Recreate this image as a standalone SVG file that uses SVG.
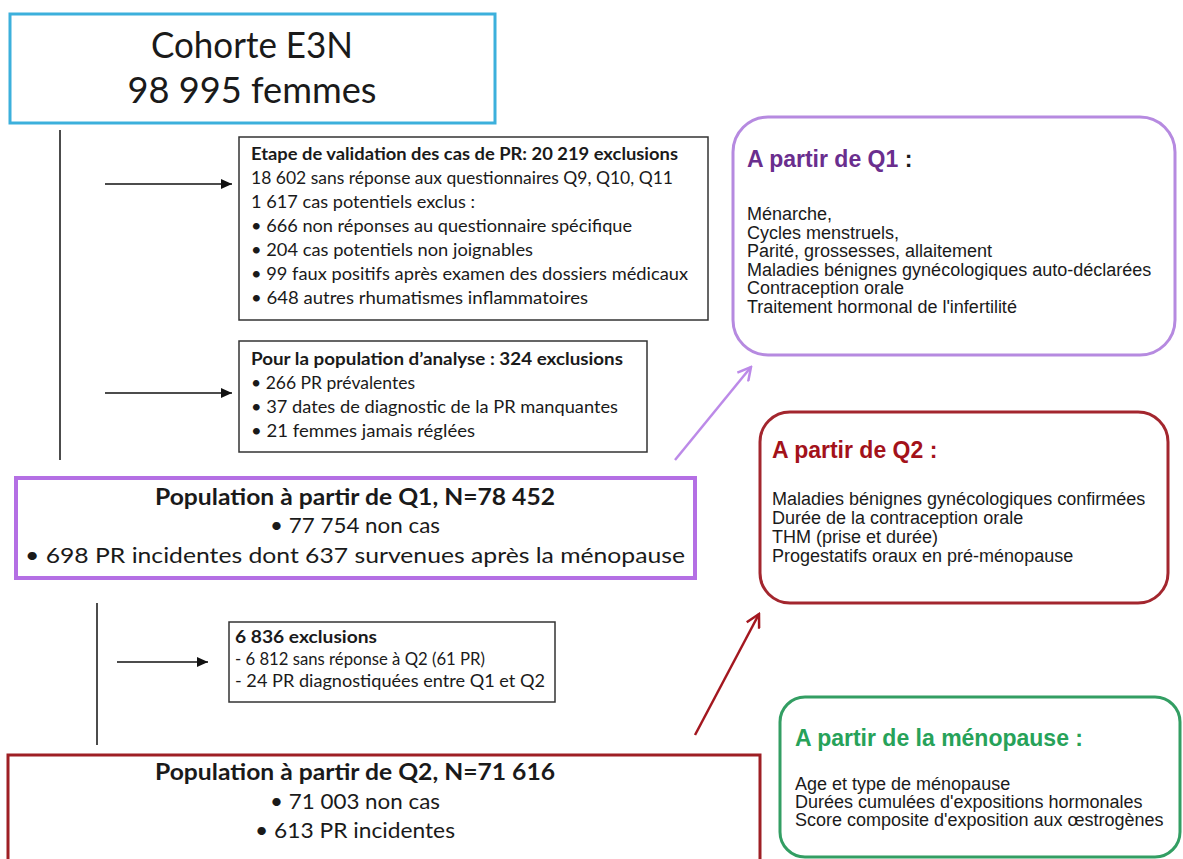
<svg xmlns="http://www.w3.org/2000/svg" width="1183" height="859" viewBox="0 0 1183 859">
<style>
.cal{font-family:Lato,"Open Sans","Liberation Sans",sans-serif;fill:#1a1a1a}
.ari{font-family:"Liberation Sans",Arial,sans-serif;fill:#1a1a1a;font-size:18px}
.s{font-size:16.5px}
.m{font-size:22px}
.b{font-weight:bold}
.bx{fill:#fff;stroke:#333;stroke-width:1.5}
.ln{stroke:#111;stroke-width:1.5;fill:none}
.t1{fill:#6A2E8E;font-weight:bold;font-size:23px}
.t2{fill:#A3121A;font-weight:bold;font-size:23px}
.t3{fill:#27A259;font-weight:bold;font-size:23px}
</style>
<defs>
<marker id="ah" markerUnits="userSpaceOnUse" markerWidth="12" markerHeight="10" refX="11" refY="5" orient="auto">
<path d="M0,0 L11,5 L0,10 z" fill="#111"/>
</marker>
<marker id="ap" markerUnits="userSpaceOnUse" markerWidth="16" markerHeight="16" refX="14" refY="8" orient="auto">
<path d="M1,1 L14,8 L1,15" fill="none" stroke="#BC8AE8" stroke-width="2.5"/>
</marker>
<marker id="ar" markerUnits="userSpaceOnUse" markerWidth="16" markerHeight="16" refX="14" refY="8" orient="auto">
<path d="M1,1 L14,8 L1,15" fill="none" stroke="#A3171F" stroke-width="2.5"/>
</marker>
</defs>
<rect width="1183" height="859" fill="#fff"/>

<g id="connectors">
<line class="ln" x1="60" y1="130" x2="60" y2="460"/>
<line class="ln" x1="105" y1="184" x2="232" y2="184" marker-end="url(#ah)"/>
<line class="ln" x1="105" y1="393" x2="232" y2="393" marker-end="url(#ah)"/>
<line class="ln" x1="97" y1="603" x2="97" y2="745"/>
<line class="ln" x1="117" y1="662" x2="208" y2="662" marker-end="url(#ah)"/>
<line x1="675" y1="460" x2="751" y2="367" stroke="#BC8AE8" stroke-width="2.5" marker-end="url(#ap)"/>
<line x1="695" y1="735" x2="759" y2="614" stroke="#A3171F" stroke-width="2.5" marker-end="url(#ar)"/>
</g>

<g id="cohorte">
<rect x="10" y="14" width="485" height="109" fill="#fff" stroke="#3CB0DC" stroke-width="3"/>
<text class="cal" x="252" y="58" font-size="37" text-anchor="middle" textLength="202" lengthAdjust="spacingAndGlyphs">Cohorte E3N</text>
<text class="cal" x="252" y="103" font-size="37" text-anchor="middle" textLength="249" lengthAdjust="spacingAndGlyphs">98 995 femmes</text>
</g>

<g id="exclusions1">
<rect class="bx" x="239" y="137" width="469" height="183"/>
<text class="cal s b" x="251" y="160" textLength="427" lengthAdjust="spacingAndGlyphs">Etape de validation des cas de PR: 20 219 exclusions</text>
<text class="cal s" x="251" y="184" textLength="422" lengthAdjust="spacingAndGlyphs">18 602 sans réponse aux questionnaires Q9, Q10, Q11</text>
<text class="cal s" x="251" y="208" textLength="224" lengthAdjust="spacingAndGlyphs">1 617 cas potentiels exclus :</text>
<text class="cal s" x="251" y="232" textLength="381" lengthAdjust="spacingAndGlyphs">• 666 non réponses au questionnaire spécifique</text>
<text class="cal s" x="251" y="256" textLength="282" lengthAdjust="spacingAndGlyphs">• 204 cas potentiels non joignables</text>
<text class="cal s" x="251" y="280" textLength="437" lengthAdjust="spacingAndGlyphs">• 99 faux positifs après examen des dossiers médicaux</text>
<text class="cal s" x="251" y="304" textLength="337" lengthAdjust="spacingAndGlyphs">• 648 autres rhumatismes inflammatoires</text>
</g>

<g id="exclusions2">
<rect class="bx" x="239" y="341" width="408" height="111"/>
<text class="cal s b" x="251" y="365" textLength="372" lengthAdjust="spacingAndGlyphs">Pour la population d’analyse : 324 exclusions</text>
<text class="cal s" x="251" y="389" textLength="164" lengthAdjust="spacingAndGlyphs">• 266 PR prévalentes</text>
<text class="cal s" x="251" y="413" textLength="367" lengthAdjust="spacingAndGlyphs">• 37 dates de diagnostic de la PR manquantes</text>
<text class="cal s" x="251" y="437" textLength="224" lengthAdjust="spacingAndGlyphs">• 21 femmes jamais réglées</text>
</g>

<g id="popQ1">
<rect x="16" y="478" width="679" height="100" fill="#fff" stroke="#B46FE4" stroke-width="4"/>
<text class="cal m b" x="355" y="505" text-anchor="middle" textLength="400" lengthAdjust="spacingAndGlyphs">Population à partir de Q1, N=78 452</text>
<text class="cal m" x="355" y="533" text-anchor="middle" textLength="170" lengthAdjust="spacingAndGlyphs">• 77 754 non cas</text>
<text class="cal m" x="355" y="563" text-anchor="middle" textLength="660" lengthAdjust="spacingAndGlyphs">• 698 PR incidentes dont 637 survenues après la ménopause</text>
</g>

<g id="exclusions3">
<rect class="bx" x="229" y="622" width="326" height="80"/>
<text class="cal s b" x="235" y="643" textLength="142" lengthAdjust="spacingAndGlyphs">6 836 exclusions</text>
<text class="cal s" x="235" y="665" textLength="250" lengthAdjust="spacingAndGlyphs">- 6 812 sans réponse à Q2 (61 PR)</text>
<text class="cal s" x="235" y="687" textLength="310" lengthAdjust="spacingAndGlyphs">- 24 PR diagnostiquées entre Q1 et Q2</text>
</g>

<g id="popQ2">
<rect x="8" y="755" width="752" height="120" fill="#fff" stroke="#9E1F24" stroke-width="3"/>
<text class="cal m b" x="355" y="780" text-anchor="middle" textLength="400" lengthAdjust="spacingAndGlyphs">Population à partir de Q2, N=71 616</text>
<text class="cal m" x="355" y="809" text-anchor="middle" textLength="170" lengthAdjust="spacingAndGlyphs">• 71 003 non cas</text>
<text class="cal m" x="355" y="838" text-anchor="middle" textLength="200" lengthAdjust="spacingAndGlyphs">• 613 PR incidentes</text>
</g>

<g id="q1vars">
<rect x="733" y="117" width="442" height="238" rx="35" fill="#fff" stroke="#B68AE0" stroke-width="3"/>
<text class="ari" x="747" y="167"><tspan class="t1">A partir de Q1</tspan><tspan font-weight="bold" font-size="23px"> :</tspan></text>
<text class="ari" x="747" y="220">Ménarche,</text>
<text class="ari" x="747" y="238.5">Cycles menstruels,</text>
<text class="ari" x="747" y="257">Parité, grossesses,  allaitement</text>
<text class="ari" x="747" y="275.5">Maladies bénignes gynécologiques auto-déclarées</text>
<text class="ari" x="747" y="294">Contraception orale</text>
<text class="ari" x="747" y="312.5">Traitement hormonal de l'infertilité</text>
</g>

<g id="q2vars">
<rect x="760" y="412" width="408" height="191" rx="30" fill="#fff" stroke="#A3262E" stroke-width="3"/>
<text class="ari t2" x="772" y="458">A partir de Q2 :</text>
<text class="ari" x="772" y="505">Maladies bénignes gynécologiques confirmées</text>
<text class="ari" x="772" y="524">Durée de la contraception orale</text>
<text class="ari" x="772" y="543">THM (prise et durée)</text>
<text class="ari" x="772" y="562">Progestatifs oraux en pré-ménopause</text>
</g>

<g id="menopause">
<rect x="780" y="697" width="400" height="160" rx="25" fill="#fff" stroke="#339E63" stroke-width="3"/>
<text class="ari t3" x="795" y="746">A partir de la ménopause :</text>
<text class="ari" x="795" y="790">Age et type de ménopause</text>
<text class="ari" x="795" y="808">Durées cumulées d'expositions hormonales</text>
<text class="ari" x="795" y="826">Score composite d'exposition aux œstrogènes</text>
</g>
</svg>
